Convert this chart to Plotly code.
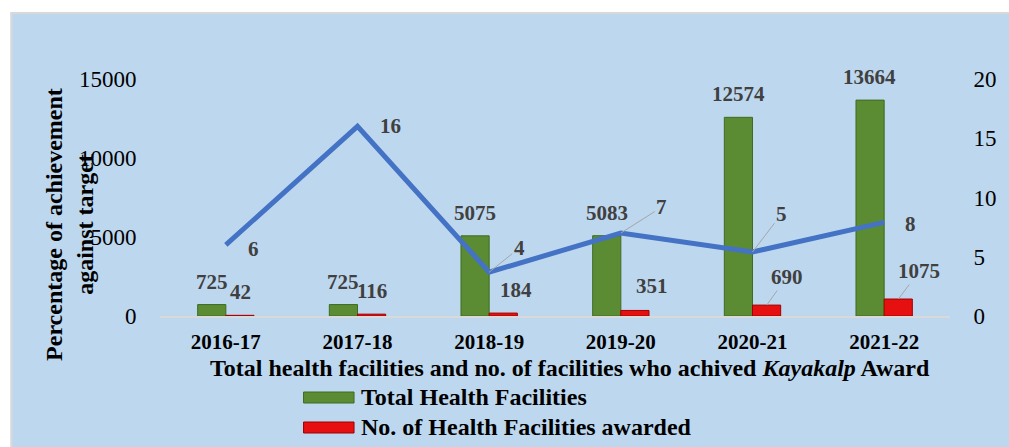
import plotly.graph_objects as go

# ---- data ----
years = ["2016-17", "2017-18", "2018-19", "2019-20", "2020-21", "2021-22"]
total_facilities = [725, 725, 5075, 5083, 12574, 13664]
awarded_facilities = [42, 116, 184, 351, 690, 1075]
pct_achievement = [6, 16, 3.7, 7, 5.4, 7.9]
left_ticks = [0, 5000, 10000, 15000]
right_ticks = [0, 5, 10, 15, 20]

# ---- label offsets (styling) ----
red_dx = [0, 0, 13, 17, 20, 21]
red_dy = [-23, -23, -23, -24, -28, -28]
red_leader = [False, False, False, False, True, True]
line_dx = [28, 33, 30, 41, 29, 26]
line_dy = [4, 0, -24, -26, -38, 2]
line_leader = [False, False, True, True, True, False]

SERIF = "Liberation Serif, Times New Roman, serif"
LABEL_COL = "#404040"
W, H = 1009, 447
ML, MR, MT, MB = 160, 51, 79, 131
PW, PH = W - ML - MR, H - MT - MB


def px(x):
    return (x - ML) / PW


def py(y):
    return (H - MB - y) / PH


fig = go.Figure()
fig.add_trace(go.Bar(x=years, y=total_facilities, name="Total Health Facilities",
                     marker=dict(color="#5B8C34", line=dict(color="#3F6B22", width=1)),
                     yaxis="y"))
fig.add_trace(go.Bar(x=years, y=awarded_facilities, name="No. of Health Facilities awarded",
                     marker=dict(color="#E61010", line=dict(color="#A00000", width=1)),
                     yaxis="y"))
fig.add_trace(go.Scatter(x=years, y=pct_achievement, mode="lines", name="Percentage",
                         line=dict(color="#4472C4", width=5), yaxis="y2"))

ann = []
lab_font = dict(family=SERIF, size=21, color=LABEL_COL)
for i, (c, v) in enumerate(zip(years, total_facilities)):
    ann.append(dict(x=c, y=v, xref="x", yref="y", text=f"<b>{v}</b>", xshift=-14.25,
                    showarrow=True, ax=0, ay=-23, arrowcolor="rgba(0,0,0,0)", arrowhead=0,
                    font=lab_font))
for i, (c, v) in enumerate(zip(years, awarded_facilities)):
    ann.append(dict(x=c, y=v, xref="x", yref="y", text=f"<b>{v}</b>", xshift=14.25,
                    showarrow=True, ax=red_dx[i], ay=red_dy[i], arrowhead=0, arrowwidth=1,
                    arrowcolor="#A6A6A6" if red_leader[i] else "rgba(0,0,0,0)",
                    font=lab_font))
for i, (c, v) in enumerate(zip(years, pct_achievement)):
    ann.append(dict(x=c, y=v, xref="x", yref="y2", text=f"<b>{round(v)}</b>",
                    showarrow=True, ax=line_dx[i], ay=line_dy[i], arrowhead=0, arrowwidth=1,
                    arrowcolor="#A6A6A6" if line_leader[i] else "rgba(0,0,0,0)",
                    font=lab_font))

# axis titles
ann.append(dict(x=px(68), y=py(224), xref="paper", yref="paper", textangle=-90,
                text="<b>Percentage of achievement<br>against target</b>", showarrow=False,
                font=dict(family=SERIF, size=24, color="black"), xanchor="center", yanchor="middle"))
ann.append(dict(x=px(574), y=py(368), xref="paper", yref="paper",
                text="<b>Total health facilities and no. of facilities who achived <i>Kayakalp</i> Award</b>",
                showarrow=False, font=dict(family=SERIF, size=24, color="black"),
                xanchor="center", yanchor="middle"))
# manual legend
legend_items = [("Total Health Facilities", "#5B8C34", "#3F6B22", 397),
                ("No. of Health Facilities awarded", "#E61010", "#A00000", 427)]
shapes = [
    # white frame (top and left) outside the light-blue chart area
    dict(type="rect", xref="paper", yref="paper", x0=px(-20), x1=px(1040), y0=py(12), y1=py(-20),
         fillcolor="white", line=dict(width=0), layer="below"),
    dict(type="rect", xref="paper", yref="paper", x0=px(-20), x1=px(9), y0=py(-20), y1=py(470),
         fillcolor="white", line=dict(width=0), layer="below"),
    dict(type="line", xref="paper", yref="paper", x0=px(9), x1=px(1040), y0=py(13), y1=py(13),
         line=dict(color="#D9D9D9", width=2), layer="below"),
    dict(type="line", xref="paper", yref="paper", x0=px(10), x1=px(10), y0=py(13), y1=py(470),
         line=dict(color="#D9D9D9", width=2), layer="below"),
]
for name, col, lcol, yc in legend_items:
    shapes.append(dict(type="rect", xref="paper", yref="paper", x0=px(305), x1=px(356),
                       y0=py(yc - 5), y1=py(yc + 6), fillcolor=col, line=dict(color=lcol, width=1)))
    ann.append(dict(x=px(361), y=py(yc), xref="paper", yref="paper", text=f"<b>{name}</b>",
                    showarrow=False, xanchor="left", yanchor="middle",
                    font=dict(family=SERIF, size=24, color="black")))

fig.update_layout(
    width=W, height=H, margin=dict(l=ML, r=MR, t=MT, b=MB),
    paper_bgcolor="#BDD7EE", plot_bgcolor="rgba(0,0,0,0)",
    barmode="group", bargap=0.572, bargroupgap=0,
    showlegend=False,
    font=dict(family=SERIF, color="black"),
    xaxis=dict(showgrid=False, showline=True, linecolor="#D9D9D9", linewidth=2,
               ticks="outside", ticklen=6, tickcolor="rgba(0,0,0,0)",
               tickfont=dict(family=SERIF, size=21, color="black"),
               tickprefix="<b>", ticksuffix="</b>"),
    yaxis=dict(range=[0, 15000], tickvals=left_ticks, tickformat="d", showgrid=False, zeroline=False,
               ticks="outside", ticklen=18, tickcolor="rgba(0,0,0,0)",
               tickfont=dict(family=SERIF, size=23, color="black")),
    yaxis2=dict(range=[0, 20], tickvals=right_ticks, overlaying="y", side="right",
                showgrid=False, zeroline=False,
                ticks="outside", ticklen=18, tickcolor="rgba(0,0,0,0)",
                tickfont=dict(family=SERIF, size=23, color="black")),
    annotations=ann, shapes=shapes,
)
fig.write_html("out.html", config={"displayModeBar": False},
               post_script="document.body.style.margin='0px';document.body.style.overflow='hidden';")
